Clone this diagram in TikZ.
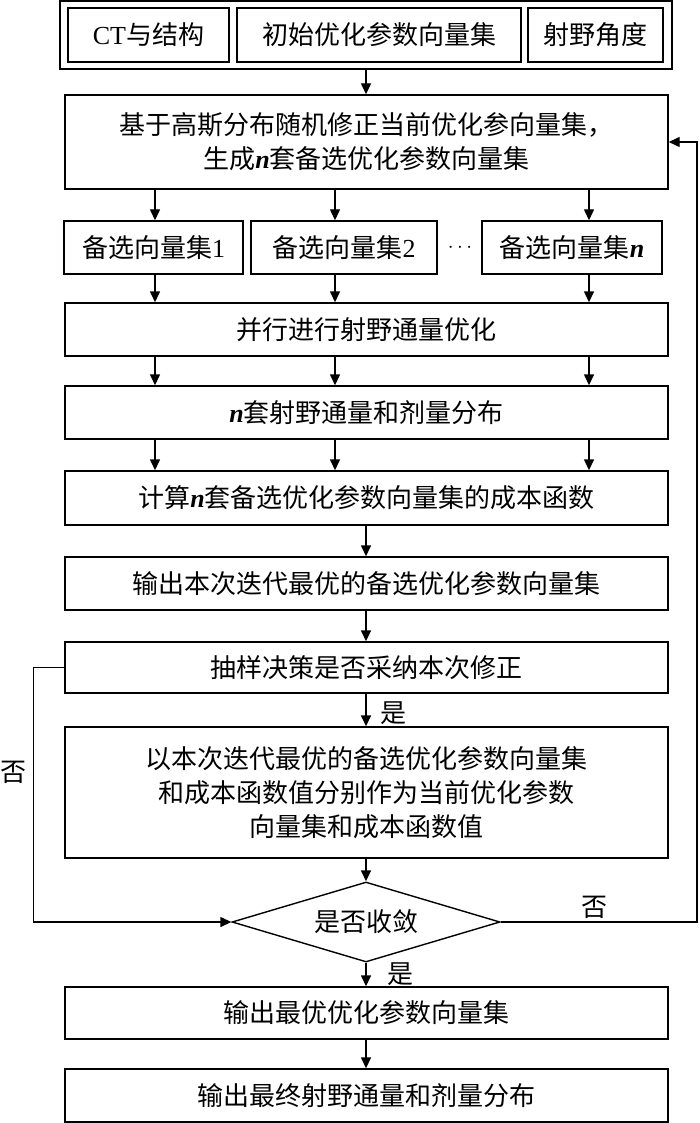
\documentclass[tikz,border=0pt]{standalone}
\usepackage{fontspec}
\setmainfont{Noto Sans CJK SC}
\newfontfamily\tnr{Liberation Serif}
\usetikzlibrary{shapes.geometric,arrows.meta}
\newcommand{\nn}{{\tnr\bfseries\itshape n}}
\begin{document}
\begin{tikzpicture}[x=1pt,y=-1pt,line width=1.4pt,
  box/.style={draw,inner sep=0pt,align=center,minimum width=603pt,font=\fontsize{26}{34}\selectfont},
  sbox/.style={draw,inner sep=0pt,align=center,minimum height=54pt,font=\fontsize{26}{34}\selectfont},
  arr/.style={-{Triangle[length=11pt,width=10pt]}},
  lbl/.style={inner sep=0pt,font=\fontsize{26}{34}\selectfont}]
\useasboundingbox (0,0) rectangle (700,1123);
% top input group
\node[draw,inner sep=0pt,minimum width=612pt,minimum height=68pt] (top) at (366,35) {};
\node[sbox,minimum width=161pt] (t1) at (148.5,35) {{\tnr CT}与结构};
\node[sbox,minimum width=284pt] (t2) at (379,35) {初始优化参数向量集};
\node[sbox,minimum width=135pt] (t3) at (595.5,35) {射野角度};
% main boxes
\node[box,minimum height=94pt] (A) at (366.5,142) {基于高斯分布随机修正当前优化参向量集，\\生成\nn 套备选优化参数向量集};
\node[sbox,minimum width=179pt,minimum height=53pt] (r1) at (153.5,247.5) {备选向量集{\tnr 1}};
\node[sbox,minimum width=186pt,minimum height=53pt] (r2) at (344,247.5) {备选向量集{\tnr 2}};
\node[sbox,minimum width=180pt,minimum height=53pt] (rn) at (572,247.5) {备选向量集\nn};
\node[inner sep=0pt,font=\fontsize{20}{20}\selectfont] (dots) at (460,247.5) {$\cdots$};
\node[box,minimum height=53pt] (B) at (366.5,329.5) {并行进行射野通量优化};
\node[box,minimum height=53pt] (C) at (366.5,412.5) {\nn 套射野通量和剂量分布};
\node[box,minimum height=54pt] (D) at (366.5,498) {计算\nn 套备选优化参数向量集的成本函数};
\node[box,minimum height=53pt] (E) at (366.5,583.5) {输出本次迭代最优的备选优化参数向量集};
\node[box,minimum height=51pt] (F) at (366.5,667.5) {抽样决策是否采纳本次修正};
\node[box,minimum height=131pt] (G) at (366.5,792.5) {以本次迭代最优的备选优化参数向量集\\和成本函数值分别作为当前优化参数\\向量集和成本函数值};
\node[draw,diamond,aspect=3.35,inner sep=0pt,minimum width=268pt,minimum height=80pt,font=\fontsize{26}{34}\selectfont] (dia) at (366,922) {是否收敛};
\node[box,minimum height=52pt] (H) at (366.5,1013) {输出最优优化参数向量集};
\node[box,minimum height=53pt] (I) at (366.5,1095.5) {输出最终射野通量和剂量分布};
% labels
\node[lbl] (y1) at (393,713) {是};
\node[lbl] (y2) at (400,974) {是};
\node[lbl] (n1) at (13,772) {否};
\node[lbl] (n2) at (594,907) {否};
% helper coordinates
\coordinate (x1) at (155,0);
\coordinate (x2) at (335,0);
\coordinate (x3) at (589,0);
\coordinate (xm) at (366,0);
\coordinate (rr) at (697,922);
% connectors
\draw[arr] (top.south -| xm) -- (A.north -| xm);
\draw[arr] (A.south -| x1) -- (r1.north -| x1);
\draw[arr] (A.south -| x2) -- (r2.north -| x2);
\draw[arr] (A.south -| x3) -- (rn.north -| x3);
\draw[arr] (r1.south -| x1) -- (B.north -| x1);
\draw[arr] (r2.south -| x2) -- (B.north -| x2);
\draw[arr] (rn.south -| x3) -- (B.north -| x3);
\draw[arr] (B.south -| x1) -- (C.north -| x1);
\draw[arr] (B.south -| x2) -- (C.north -| x2);
\draw[arr] (B.south -| x3) -- (C.north -| x3);
\draw[arr] (C.south -| x1) -- (D.north -| x1);
\draw[arr] (C.south -| x2) -- (D.north -| x2);
\draw[arr] (C.south -| x3) -- (D.north -| x3);
\draw[arr] (D.south -| xm) -- (E.north -| xm);
\draw[arr] (E.south -| xm) -- (F.north -| xm);
\draw[arr] (F.south -| xm) -- (G.north -| xm);
\draw[arr] (G.south -| xm) -- (dia.north);
\draw[arr] (dia.south) -- (H.north -| xm);
\draw[arr] (H.south -| xm) -- (I.north -| xm);
\draw[arr] (F.west) -- ++(-31,0) |- (dia.west);
\draw[arr] (dia.east) -- (rr) |- (A.east);
\end{tikzpicture}
\end{document}
